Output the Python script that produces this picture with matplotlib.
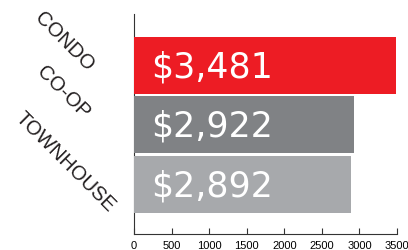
import matplotlib
matplotlib.use("Agg")
import matplotlib.pyplot as plt

# ── data ──────────────────────────────────────────────────────────────────────
categories = ["CONDO", "CO-OP", "TOWNHOUSE"]
values     = [3481, 2922, 2892]
labels     = ["$3,481", "$2,922", "$2,892"]
colors     = ["#ED1C24", "#808285", "#A7A9AC"]
xticks     = [0, 500, 1000, 1500, 2000, 2500, 3000, 3500]

# category label anchors (pixels from top-left, baseline-right end)
cat_anchor = [(87, 72), (83, 120), (108, 213)]

W, H = 408, 251
fig = plt.figure(figsize=(W / 100, H / 100), dpi=100)
ax = fig.add_axes([134 / W, 1 - 235 / H, (397 - 134) / W, (235 - 15) / H])

ypos = list(range(len(categories)))
ax.barh(ypos, values, height=0.96, color=colors, edgecolor="none", zorder=3)

for y, txt in zip(ypos, labels):
    ax.text(230, y + 0.02, txt, color="white", fontsize=25, family="DejaVu Sans",
            va="center", ha="left", zorder=4)

for (px, py), name in zip(cat_anchor, categories):
    fig.text(px / W, 1 - py / H, name, rotation=-45, rotation_mode="anchor",
             ha="right", va="baseline", fontsize=14.5, family="Liberation Sans",
             color="#231F20")

ax.set_xlim(0, 3500)
ax.set_ylim(2.84, -0.86)
ax.set_yticks([])
ax.set_xticks(xticks)
ax.set_xticklabels([str(t) for t in xticks], fontsize=8, family="Liberation Sans")
ax.tick_params(axis="x", direction="in", length=4, width=0.8, color="#333333", pad=4)
for s in ["top", "right"]:
    ax.spines[s].set_visible(False)
for s in ["left", "bottom"]:
    ax.spines[s].set_color("#333333")
    ax.spines[s].set_linewidth(0.8)

fig.savefig("out.png", dpi=100)
